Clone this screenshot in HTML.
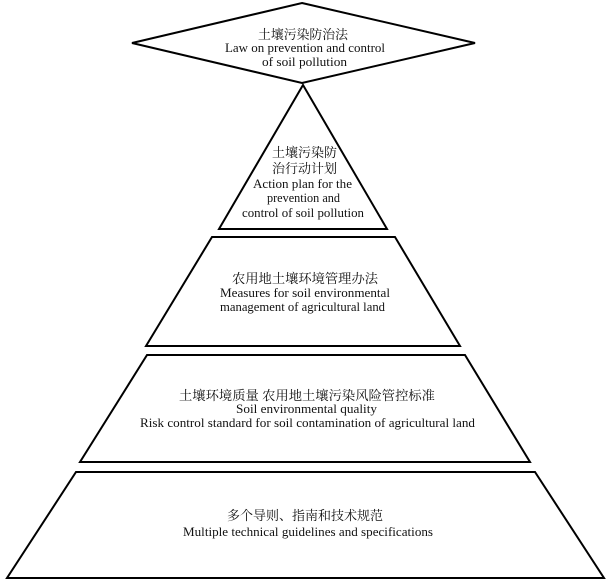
<!DOCTYPE html>
<html>
<head>
<meta charset="utf-8">
<style>
  html, body { margin:0; padding:0; background:#fff; }
  svg { display:block; }
  text { font-family: "Liberation Serif", "Noto Serif CJK SC", serif; font-size:13px; fill:#111; }
  .cn { font-family: "Liberation Serif", "Noto Serif CJK SC", "Noto Sans CJK SC", serif; }
</style>
</head>
<body>
<svg width="610" height="586" viewBox="0 0 610 586" xmlns="http://www.w3.org/2000/svg">
  <g fill="#fff" stroke="#000" stroke-width="2" stroke-linejoin="miter">
    <polygon points="302,3 475,43 302,83 132,43"/>
    <polygon points="303,85 387,229 219,229"/>
    <polygon points="212,237 395,237 460,346 146,346"/>
    <polygon points="147,355 465,355 530,462 80,462"/>
    <polygon points="76,472 535,472 604,578 7,578"/>
  </g>

  <g text-anchor="middle">
    <!-- Diamond -->
    <text class="cn" x="303" y="39" textLength="90" lengthAdjust="spacingAndGlyphs">土壤污染防治法</text>
    <text x="305" y="52" textLength="160" lengthAdjust="spacingAndGlyphs">Law on prevention and control</text>
    <text x="304.5" y="66" textLength="85" lengthAdjust="spacingAndGlyphs">of soil pollution</text>

    <!-- Triangle -->
    <text class="cn" x="304.5" y="157" textLength="65" lengthAdjust="spacingAndGlyphs">土壤污染防</text>
    <text class="cn" x="304.5" y="173" textLength="65" lengthAdjust="spacingAndGlyphs">治行动计划</text>
    <text x="302.5" y="188" textLength="99" lengthAdjust="spacingAndGlyphs">Action plan for the</text>
    <text x="303.5" y="202" textLength="73" lengthAdjust="spacingAndGlyphs">prevention and</text>
    <text x="303" y="217" textLength="122" lengthAdjust="spacingAndGlyphs">control of soil pollution</text>

    <!-- Trapezoid 1 -->
    <text class="cn" x="305" y="283" textLength="146" lengthAdjust="spacingAndGlyphs">农用地土壤环境管理办法</text>
    <text x="305" y="297" textLength="170" lengthAdjust="spacingAndGlyphs">Measures for soil environmental</text>
    <text x="302.5" y="311" textLength="165" lengthAdjust="spacingAndGlyphs">management of agricultural land</text>

    <!-- Trapezoid 2 -->
    <text class="cn" x="307" y="400" textLength="256" lengthAdjust="spacingAndGlyphs">土壤环境质量 农用地土壤污染风险管控标准</text>
    <text x="306.5" y="413" textLength="141" lengthAdjust="spacingAndGlyphs">Soil environmental quality</text>
    <text x="307.5" y="427" textLength="335" lengthAdjust="spacingAndGlyphs">Risk control standard for soil contamination of agricultural land</text>

    <!-- Trapezoid 3 -->
    <text class="cn" x="305" y="520" textLength="156" lengthAdjust="spacingAndGlyphs">多个导则、指南和技术规范</text>
    <text x="308" y="536" textLength="250" lengthAdjust="spacingAndGlyphs">Multiple technical guidelines and specifications</text>
  </g>
</svg>
</body>
</html>
